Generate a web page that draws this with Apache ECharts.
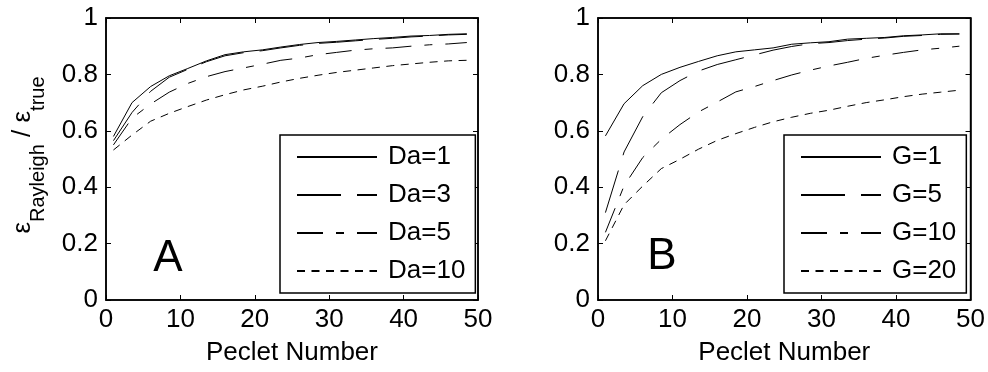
<!DOCTYPE html>
<html><head><meta charset="utf-8">
<script src="https://cdn.jsdelivr.net/npm/echarts@6/dist/echarts.min.js"></script>
<style>html,body{margin:0;padding:0;background:#fff}#c{width:988px;height:372px}</style>
</head><body><div id="c"></div>
<script>
// Data
const peclet = [1,3.5,6,8.5,11,13.5,16,18.5,21,23.5,26,28.5,31,33.5,36,38.5,41,43.5,46,48.5];
const da1  = [0.580,0.700,0.757,0.795,0.821,0.848,0.870,0.880,0.887,0.897,0.906,0.913,0.917,0.922,0.927,0.931,0.936,0.938,0.942,0.944];
const da3  = [0.565,0.665,0.740,0.790,0.818,0.845,0.866,0.877,0.884,0.894,0.903,0.910,0.914,0.919,0.924,0.928,0.933,0.936,0.940,0.942];
const da5  = [0.550,0.645,0.695,0.737,0.768,0.792,0.810,0.823,0.836,0.850,0.858,0.870,0.878,0.886,0.891,0.894,0.900,0.905,0.908,0.913];
const da10 = [0.532,0.585,0.634,0.662,0.686,0.709,0.728,0.745,0.758,0.773,0.786,0.797,0.807,0.815,0.823,0.831,0.837,0.843,0.848,0.850];
const g1   = [0.582,0.696,0.760,0.800,0.825,0.846,0.866,0.880,0.887,0.894,0.907,0.912,0.916,0.925,0.928,0.931,0.937,0.940,0.944,0.944];
const g5   = [0.310,0.525,0.650,0.735,0.778,0.812,0.835,0.852,0.869,0.886,0.899,0.909,0.913,0.920,0.925,0.929,0.935,0.938,0.942,0.943];
const g10  = [0.240,0.405,0.505,0.570,0.622,0.667,0.702,0.738,0.757,0.778,0.798,0.815,0.830,0.843,0.857,0.868,0.878,0.887,0.893,0.900];
const g20  = [0.210,0.338,0.404,0.466,0.499,0.535,0.566,0.590,0.612,0.632,0.648,0.662,0.673,0.687,0.700,0.710,0.721,0.730,0.737,0.744];
const leftNames  = ['Da=1','Da=3','Da=5','Da=10'];
const rightNames = ['G=1','G=5','G=10','G=20'];
const xTickLabels = ['0','10','20','30','40','50'];
const yTickLabels = ['0','0.2','0.4','0.6','0.8','1'];
const xAxisTitle = 'Peclet Number';
const yTitleParts = [['ε', false], ['Rayleigh', true], [' / ε', false], ['true', true]];
const panelLabels = ['A', 'B'];

const FONT = 'Liberation Sans, Arial, sans-serif';
const dashes = ['solid', [44,16], [26,13,8,13], [8,6.5]];

function pairs(ys){ return peclet.map((x,i)=>[x, ys[i]]); }

const grids = [
  {left:106, top:18, width:372, height:282},
  {left:598, top:18, width:374, height:282}
];

const xAxes = [], yAxes = [];
grids.forEach((g, gi) => {
  const base = {gridIndex: gi, min:0, max:50, interval:10, type:'value',
    axisLine:{show:true, onZero:false, lineStyle:{color:'#000', width:1.5}},
    axisTick:{show:true, inside:true, length:5, lineStyle:{color:'#000', width:1}},
    splitLine:{show:false}};
  xAxes.push(Object.assign({}, base, {position:'bottom',
    axisLabel:{show:true, margin:7, color:'#000', fontSize:26, fontFamily:FONT,
      formatter:(v)=> xTickLabels[Math.round(v/10)]},
    name:xAxisTitle, nameLocation:'middle', nameGap:40,
    nameTextStyle:{color:'#000', fontSize:26, fontFamily:FONT}}));
  xAxes.push(Object.assign({}, base, {position:'top', axisLabel:{show:false}}));
  const ybase = {gridIndex: gi, min:0, max:1, interval:0.2, type:'value',
    axisLine:{show:true, onZero:false, lineStyle:{color:'#000', width:1.5}},
    axisTick:{show:true, inside:true, length:5, lineStyle:{color:'#000', width:1}},
    splitLine:{show:false}};
  yAxes.push(Object.assign({}, ybase, {position:'left',
    axisLabel:{show:true, margin:8, color:'#000', fontSize:26, fontFamily:FONT,
      formatter:(v)=> yTickLabels[Math.round(v/0.2)]}}));
  yAxes.push(Object.assign({}, ybase, {position:'right', axisLabel:{show:false}}));
});

const series = [];
[[da1,da3,da5,da10],[g1,g5,g10,g20]].forEach((set, gi) => {
  const names = gi===0 ? leftNames : rightNames;
  set.forEach((ys, k) => {
    series.push({type:'line', name:names[k], xAxisIndex:gi*2, yAxisIndex:gi*2,
      data:pairs(ys), showSymbol:false, symbol:'none', smooth:false, animation:false,
      lineStyle:{color:'#000', width:1, type:dashes[k]}, itemStyle:{color:'#000'}, z:2});
  });
});

function legendAt(left, names){
  return {show:true, orient:'vertical', left:left, top:135, data:names,
    itemWidth:80, itemHeight:14, itemGap:12, 
    itemStyle:{opacity:0},
    padding:[9,10,9,16], backgroundColor:'#fff', borderColor:'#000', borderWidth:1.5,
    textStyle:{color:'#000', fontSize:26, fontFamily:FONT, lineHeight:25, padding:[0,0,0,6]},
    selectedMode:false, z:10};
}

// y-axis title built from pieces (rotated group), measured with canvas
const mctx = document.createElement('canvas').getContext('2d');
function tw(t, size){ mctx.font = size + 'px Liberation Sans'; return mctx.measureText(t).width; }
const MAIN = 26, SUB = 20;
const widths = yTitleParts.map(p => tw(p[0], p[1] ? SUB : MAIN));
const totalW = widths.reduce((a,b)=>a+b, 0);
let cursor = -totalW/2;
const titleChildren = yTitleParts.map((p, i) => {
  const sub = p[1];
  const el = {type:'text', x:cursor, y: sub ? 38 - 23 : 23 - 23,
    style:{text:p[0], font:(sub?SUB:MAIN)+'px '+FONT, fill:'#000', align:'left', verticalAlign:'middle'}};
  cursor += widths[i];
  return el;
});

const option = {
  animation:false,
  backgroundColor:'#fff',
  grid: grids.map(g=>Object.assign({show:true, borderColor:'#000', borderWidth:1.5, backgroundColor:'transparent'}, g)),
  xAxis: xAxes,
  yAxis: yAxes,
  legend: [legendAt(280, leftNames), legendAt(784, rightNames)],
  series: series,
  graphic: [
    {type:'group', x:23, y:155, rotation:Math.PI/2, z:20, children:titleChildren},
    {type:'text', x:168, y:259, z:20, style:{text:panelLabels[0], font:'44px '+FONT, fill:'#000', align:'center', verticalAlign:'middle'}},
    {type:'text', x:662, y:257, z:20, style:{text:panelLabels[1], font:'44px '+FONT, fill:'#000', align:'center', verticalAlign:'middle'}}
  ]
};
const chart = echarts.init(document.getElementById('c'), null, {renderer:'canvas'});
chart.setOption(option);
</script></body></html>
